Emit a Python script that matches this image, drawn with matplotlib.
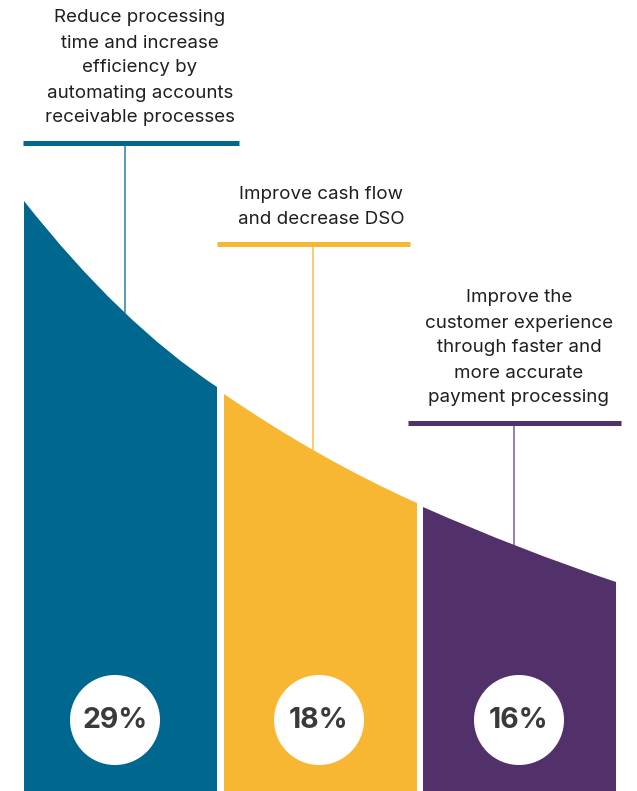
import matplotlib.pyplot as plt
from matplotlib.path import Path
from matplotlib.patches import PathPatch, Circle

plt.rcParams['font.family'] = ['Inter', 'DejaVu Sans']

percent_labels = ["29%", "18%", "16%"]
descriptions = [
    ["Reduce processing", "time and increase", "efficiency by",
     "automating accounts", "receivable processes"],
    ["Improve cash flow", "and decrease DSO"],
    ["Improve the", "customer experience", "through faster and",
     "more accurate", "payment processing"],
]
col_left = [24, 224, 423]
col_right = [217, 417, 616]
top_left = [201, 394, 507]
top_mid = [313, 450, 545]     # where the connector touches the curve
top_right = [387, 503, 582]
connector_x = [125, 313, 514]
bar_y = [142.5, 244, 422.5]
bar_x0 = [23, 217, 408]
bar_x1 = [239, 410, 621]
label_cx = [140, 321, 519]
circle_x = [115, 319, 519]

colors = ['#00678f', '#f7b733', '#52316b']
light_colors = ['#4d93b3', '#f9c862', '#8c75a3']

W, H = 637, 791
fig = plt.figure(figsize=(W / 100, H / 100), dpi=100)
ax = fig.add_axes([0, 0, 1, 1])
ax.set_xlim(0, W)
ax.set_ylim(H, 0)
ax.axis('off')

for i in range(3):
    x0, x2 = col_left[i], col_right[i]
    y0, y2 = top_left[i], top_right[i]
    xm, ym = connector_x[i], top_mid[i]
    # quadratic bezier through the three read points
    t = (xm - x0) / (x2 - x0)
    yc = (ym - (1 - t) ** 2 * y0 - t ** 2 * y2) / (2 * t * (1 - t))
    xc = (x0 + x2) / 2
    verts = [(x0, H), (x0, y0), (xc, yc), (x2, y2), (x2, H), (x0, H)]
    codes = [Path.MOVETO, Path.LINETO, Path.CURVE3, Path.CURVE3,
             Path.LINETO, Path.CLOSEPOLY]
    ax.add_patch(PathPatch(Path(verts, codes), facecolor=colors[i],
                           edgecolor='none', zorder=2))

    # connector and header bar
    ax.plot([xm, xm], [bar_y[i], ym], color=light_colors[i], lw=1.3,
            solid_capstyle='butt', zorder=1)
    ax.plot([bar_x0[i], bar_x1[i]], [bar_y[i], bar_y[i]], color=colors[i],
            lw=3.6, solid_capstyle='butt', zorder=3)

    lines = descriptions[i]
    n = len(lines)
    for j, line in enumerate(lines):
        ax.text(label_cx[i], bar_y[i] - 24.5 - 25 * (n - 1 - j), line,
                ha='center', va='center', fontsize=13.5, color='#1f1f1f')

    ax.add_patch(Circle((circle_x[i], 720), 45, facecolor='white',
                        edgecolor='none', zorder=4))
    ax.text(circle_x[i], 721, percent_labels[i], ha='center', va='center',
            fontsize=20.5, fontweight='bold', color='#3a3a3a', zorder=5)

fig.savefig('out.png', dpi=100)
